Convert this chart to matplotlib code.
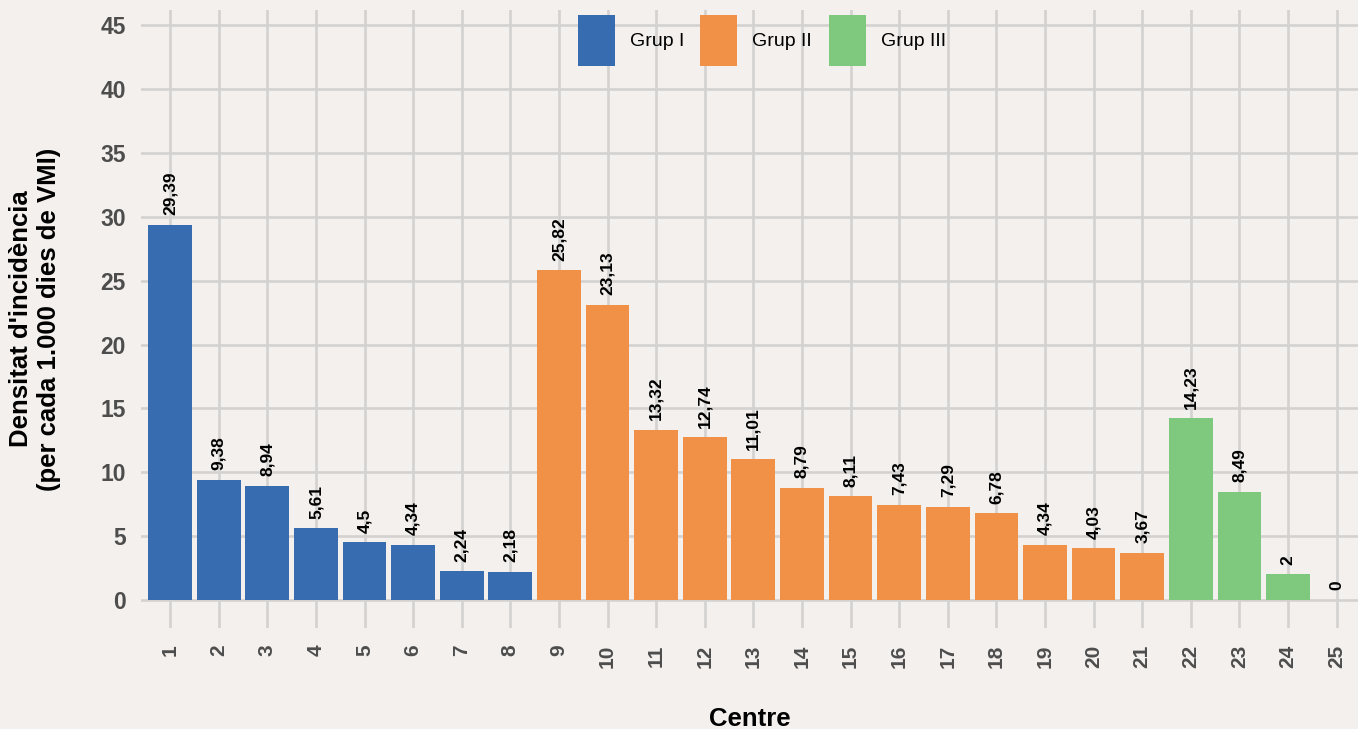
import matplotlib.pyplot as plt
from matplotlib.patches import Patch

# dades
centres = list(range(1, 26))
densitat = [29.39, 9.38, 8.94, 5.61, 4.5, 4.34, 2.24, 2.18,
            25.82, 23.13, 13.32, 12.74, 11.01, 8.79, 8.11, 7.43, 7.29, 6.78, 4.34, 4.03, 3.67,
            14.23, 8.49, 2, 0]
grups = ['Grup I'] * 8 + ['Grup II'] * 13 + ['Grup III'] * 4
etiquetes = ['29,39', '9,38', '8,94', '5,61', '4,5', '4,34', '2,24', '2,18',
             '25,82', '23,13', '13,32', '12,74', '11,01', '8,79', '8,11', '7,43', '7,29', '6,78',
             '4,34', '4,03', '3,67', '14,23', '8,49', '2', '0']

colors = {'Grup I': '#386CB0', 'Grup II': '#F09147', 'Grup III': '#7FC97F'}

plt.rcParams['font.family'] = ['Liberation Sans', 'DejaVu Sans']

fig = plt.figure(figsize=(13.58, 7.29), dpi=100)
fig.patch.set_facecolor('#F4F0ED')
# el panel baixa una mica per sota del zero (com ggplot)
ax = fig.add_axes([0.1038, 0.1385, 1 - 0.1038, 0.9863 - 0.1385])
ax.set_facecolor('#F4F0ED')

ax.bar(centres, densitat, width=0.9, color=[colors[g] for g in grups], zorder=3)

for x, v, t in zip(centres, densitat, etiquetes):
    ax.annotate(t, (x, v), xytext=(0, 7), textcoords='offset points',
                ha='center', va='bottom', rotation=90, fontsize=12.5,
                fontweight='bold', color='black', zorder=4)

ax.set_xlim(0.4, 25.44)
ax.set_ylim(-2.2, 46.2)
ax.set_xticks(centres)
ax.set_xticklabels([str(c) for c in centres], rotation=90)
ax.set_yticks(range(0, 50, 5))

ax.grid(True, color='#D4D2D0', linewidth=1.9, zorder=0)
ax.set_axisbelow(True)
for s in ax.spines.values():
    s.set_visible(False)

ax.tick_params(axis='x', length=0, pad=12, labelsize=15, labelcolor='#4D4D4D')
ax.tick_params(axis='y', length=0, pad=11, labelsize=16.5, labelcolor='#4D4D4D')
for lab in ax.get_xticklabels() + ax.get_yticklabels():
    lab.set_fontweight('bold')

ax.set_ylabel("Densitat d'incidència\n(per cada 1.000 dies de VMI)",
              fontsize=18.5, fontweight='bold')
ax.yaxis.set_label_coords(-0.066, 0.5)
ax.set_xlabel('Centre', fontsize=18.5, fontweight='bold', labelpad=28)

handles = [Patch(facecolor=colors[g], label=g) for g in ['Grup I', 'Grup II', 'Grup III']]
ax.legend(handles=handles, loc='upper center', bbox_to_anchor=(0.51, 1.021), ncol=3,
          frameon=False, fontsize=14, handlelength=1.9, handleheight=3.73,
          handletextpad=0.77, columnspacing=0.85)

fig.savefig('out.png', dpi=100, facecolor=fig.get_facecolor())
